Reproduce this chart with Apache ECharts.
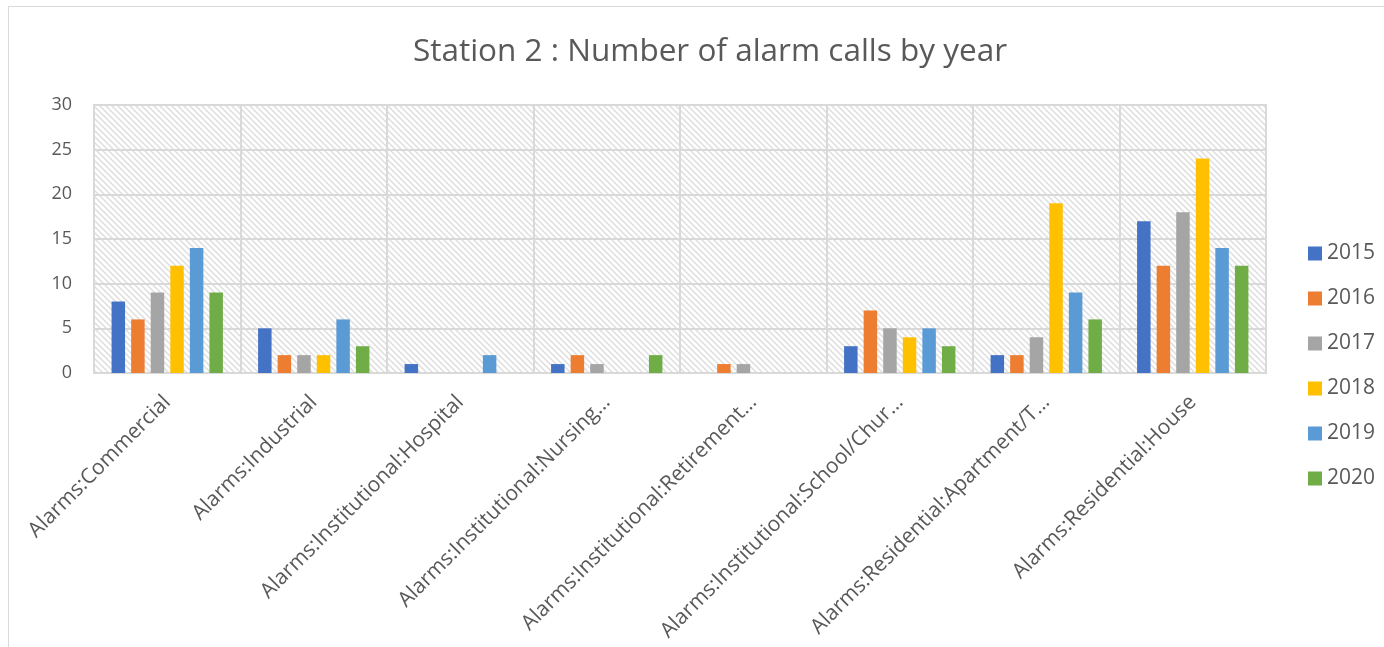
<!DOCTYPE html>
<html>
<head>
<meta charset="utf-8">
<title>Station 2 alarm calls</title>
<script src="https://cdn.jsdelivr.net/npm/echarts@6/dist/echarts.min.js"></script>
<style>
    html, body {
        margin: 0;
        padding: 0;
        background: #fff;
    }
    .frame {
        position: absolute;
        left: 8px;
        top: 6px;
        width: 1390px;
        height: 660px;
        border: 1px solid #d9d9d9;
        box-sizing: border-box;
    }
    #chart {
        position: absolute;
        left: 0;
        top: 0;
        width: 1384px;
        height: 647px;
    }
</style>
</head>
<body>
<div class="frame"></div>
<div id="chart"></div>
<script>
// categories as printed under the axis (Excel cut the long ones)
var categories = [
    "Alarms:Commercial",
    "Alarms:Industrial",
    "Alarms:Institutional:Hospital",
    "Alarms:Institutional:Nursing…",
    "Alarms:Institutional:Retirement…",
    "Alarms:Institutional:School/Chur…",
    "Alarms:Residential:Apartment/T…",
    "Alarms:Residential:House"
];
var years = ["2015", "2016", "2017", "2018", "2019", "2020"];

// one array per year, same order as categories
var y2015 = [8, 5, 1, 1, 0, 3, 2, 17];
var y2016 = [6, 2, 0, 2, 1, 7, 2, 12];
var y2017 = [9, 2, 0, 1, 1, 5, 4, 18];
var y2018 = [12, 2, 0, 0, 0, 4, 19, 24];
var y2019 = [14, 6, 2, 0, 0, 5, 9, 14];
var y2020 = [9, 3, 0, 2, 0, 3, 6, 12];

var yTicks = [0, 5, 10, 15, 20, 25, 30];

var colors = ["#4472C4", "#ED7D31", "#A5A5A5", "#FFC000", "#5B9BD5", "#70AD47"];
var textColor = "#595959";
var font = "'Open Sans', 'DejaVu Sans', sans-serif";

// hatched plot background, drawn once on a tiny canvas
function makeHatch() {
    var c = document.createElement("canvas");
    var s = 6;
    c.width = s;
    c.height = s;
    var ctx = c.getContext("2d");
    ctx.fillStyle = "#ffffff";
    ctx.fillRect(0, 0, s, s);
    ctx.strokeStyle = "#dedede";
    ctx.lineWidth = 1.5;
    ctx.beginPath();
    ctx.moveTo(-1, -1);
    ctx.lineTo(s + 1, s + 1);
    ctx.moveTo(-1, s - 1);
    ctx.lineTo(1, s + 1);
    ctx.moveTo(s - 1, -1);
    ctx.lineTo(s + 1, 1);
    ctx.stroke();
    return c;
}

var allData = [y2015, y2016, y2017, y2018, y2019, y2020];

var myChart = echarts.init(document.getElementById("chart"));

var option = {
    animation: false,
    color: colors,
    textStyle: {
        fontFamily: font
    },
    title: {
        text: "Station 2 : Number of alarm calls by year",
        left: 705,
        textAlign: "center",
        top: 31,
        textStyle: {
            color: textColor,
            fontSize: 31.5,
            fontWeight: "normal",
            fontFamily: font
        }
    },
    legend: {
        orient: "vertical",
        left: 1303,
        top: 238,
        itemWidth: 14,
        itemHeight: 14,
        itemGap: 24,
        icon: "rect",
        textStyle: {
            color: textColor,
            fontSize: 21
        },
        data: years
    },
    grid: {
        left: 94,
        right: 118,
        top: 105,
        bottom: 274,
        show: true,
        backgroundColor: { image: makeHatch(), repeat: "repeat" },
        borderColor: "#d9d9d9",
        borderWidth: 2
    },
    xAxis: {
        type: "category",
        data: categories,
        axisLine: {
            lineStyle: { color: "#d9d9d9", width: 2 }
        },
        axisTick: { show: false },
        splitLine: {
            show: true,
            lineStyle: { color: "#d9d9d9", width: 2 }
        },
        axisLabel: {
            rotate: 45,
            interval: 0,
            margin: 26,
            color: textColor,
            fontSize: 21,
            padding: [37, 0, 0, 0]
        }
    },
    yAxis: {
        type: "value",
        min: yTicks[0],
        max: yTicks[yTicks.length - 1],
        interval: 5,
        axisLine: { show: false },
        axisTick: { show: false },
        splitLine: {
            lineStyle: { color: "#d9d9d9", width: 2 }
        },
        axisLabel: {
            color: textColor,
            fontSize: 18,
            margin: 22
        }
    },
    series: years.map(function(name, i) {
        return {
            name: name,
            type: "bar",
            data: allData[i],
            barGap: "45%",
            barCategoryGap: "24%"
        };
    })
};

myChart.setOption(option);
window.addEventListener("resize", myChart.resize);
</script>
</body>
</html>
